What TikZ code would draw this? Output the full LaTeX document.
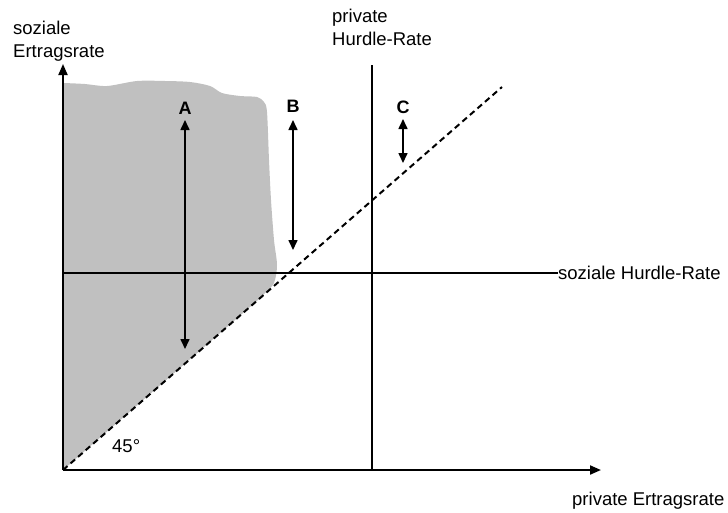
\documentclass[tikz,border=0pt]{standalone}
\usepackage{fontspec}
\setmainfont{Liberation Sans}
\usetikzlibrary{arrows.meta}
\definecolor{shadegray}{RGB}{192,192,192}
\tikzset{
    axis/.style={-{Triangle[length=11pt,width=9pt]}, line width=2pt},
    rateline/.style={line width=2pt},
    diagonal/.style={line width=2pt, dash pattern=on 6pt off 4pt},
    gap/.style={{Triangle[length=10pt,width=9pt]}-{Triangle[length=10pt,width=9pt]}, line width=1.6pt},
    axislabel/.style={inner sep=0pt, align=left, font=\fontsize{18.5}{23}\selectfont},
    gaplabel/.style={inner sep=0pt, anchor=base, font=\fontsize{18}{23}\selectfont\bfseries}
}
\begin{document}
\begin{tikzpicture}[x=1pt, y=-1pt]
\useasboundingbox (0,0) rectangle (728,512);
\coordinate (O) at (63,470);
\coordinate (ytip) at (63,64);
\coordinate (xtip) at (601,470);
\coordinate (sh) at (63,273);
\coordinate (phtop) at (372,65);
\coordinate (phbot) at (372,470);
\coordinate (dend) at (502,87);

% shaded area
\fill[shadegray] (O) -- plot[smooth] coordinates {(64,83) (85,84) (107,86) (137,81) (165,81) (190,82) (210,86) (222,93) (240,96) (257,97) (264,102) (267,112) (269,160) (271,200) (274,240) (277,265) (274,283) (265,293) (258,300)} -- cycle;

% labels
\node[axislabel, anchor=north west] (ylabel) at (13,21) {soziale\\Ertragsrate};
\node[axislabel, anchor=base west] (xlabel) at (572,505) {private Ertragsrate};
\node[axislabel, anchor=west] (shlabel) at (558,273) {soziale Hurdle-Rate};
\node[axislabel, anchor=north west] (phlabel) at (332,9) {private\\Hurdle-Rate};
\node[axislabel, anchor=base west] (angle) at (112,452) {45\textdegree};

\draw[diagonal] (O) -- (dend);
\draw[rateline] (sh) -- (shlabel.west);
\draw[rateline] (phtop) -- (phbot);
\draw[axis] (O) -- (ytip);
\draw[axis] (O) -- (xtip);

% gaps
\node[gaplabel] (A) at (185,114) {A};
\node[gaplabel] (B) at (293,112) {B};
\node[gaplabel] (C) at (403,113) {C};
\coordinate (Atop) at (185,120);
\coordinate (Abot) at (185,349);
\coordinate (Btop) at (293,120);
\coordinate (Bbot) at (293,250);
\coordinate (Ctop) at (403,119);
\coordinate (Cbot) at (403,163);
\draw[gap] (Atop) -- (Abot);
\draw[gap] (Btop) -- (Bbot);
\draw[gap] (Ctop) -- (Cbot);
\end{tikzpicture}
\end{document}
